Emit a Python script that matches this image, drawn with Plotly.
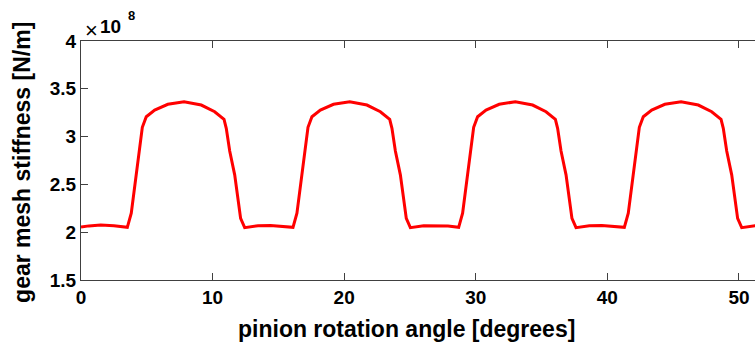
import plotly.graph_objects as go

# pinion rotation angle [degrees]
angle = [
    0.00, 0.60, 1.50, 2.50, 3.52, 3.82, 4.66, 4.96, 5.60, 6.60, 7.83, 9.14, 10.16, 10.87, 11.04, 11.30, 11.68, 12.13, 12.44, 13.45, 14.40, 15.30,
    16.11, 16.41, 17.25, 17.55, 18.19, 19.19, 20.42, 21.73, 22.75, 23.46, 23.63, 23.89, 24.27, 24.72, 25.03, 26.04, 26.99, 27.89,
    28.70, 29.00, 29.84, 30.14, 30.78, 31.78, 33.01, 34.32, 35.34, 36.05, 36.22, 36.48, 36.86, 37.31, 37.62, 38.63, 39.58, 40.48,
    41.29, 41.59, 42.43, 42.73, 43.37, 44.37, 45.60, 46.91, 47.93, 48.64, 48.81, 49.07, 49.45, 49.90, 50.21, 51.22, 52.20,
]
# gear mesh stiffness [x 1e8 N/m]
stiffness = [
    2.054, 2.066, 2.075, 2.068, 2.051, 2.198, 3.097, 3.208, 3.278, 3.338, 3.365, 3.330, 3.260, 3.180, 3.087, 2.850, 2.600, 2.145, 2.047, 2.068, 2.070, 2.064,
    2.051, 2.198, 3.097, 3.208, 3.278, 3.338, 3.365, 3.330, 3.260, 3.180, 3.087, 2.850, 2.600, 2.145, 2.047, 2.068, 2.070, 2.064,
    2.051, 2.198, 3.097, 3.208, 3.278, 3.338, 3.365, 3.330, 3.260, 3.180, 3.087, 2.850, 2.600, 2.145, 2.047, 2.068, 2.070, 2.064,
    2.051, 2.198, 3.097, 3.208, 3.278, 3.338, 3.365, 3.330, 3.260, 3.180, 3.087, 2.850, 2.600, 2.145, 2.047, 2.068, 2.070,
]

x_ticks = [0, 10, 20, 30, 40, 50]
y_ticks = [1.5, 2, 2.5, 3, 3.5, 4]
y_tick_text = ["1.5", "2", "2.5", "3", "3.5", "4"]

FONT = "Liberation Sans, Arial, Helvetica, sans-serif"
AX = "#404040"
TICK_SIZE = 19
TITLE_SIZE = 23

fig = go.Figure()
fig.add_trace(go.Scatter(x=angle, y=stiffness, mode="lines",
                         line=dict(color="#ff0000", width=3), showlegend=False))

fig.update_layout(
    width=755, height=343,
    margin=dict(l=81, r=0, t=41, b=63, autoexpand=False),
    plot_bgcolor="white", paper_bgcolor="white",
    font=dict(family=FONT, size=TICK_SIZE, color="black", weight=700),
)
fig.update_xaxes(
    range=[0, 51.22], tickvals=x_ticks, ticks="inside", ticklen=7, tickwidth=1,
    tickcolor=AX, showline=True, linecolor=AX, linewidth=1, mirror="ticks",
    showgrid=False, zeroline=False, tickfont=dict(size=TICK_SIZE, family=FONT, weight=700),
)
fig.update_yaxes(
    range=[1.5, 4], tickvals=y_ticks, ticktext=y_tick_text, ticks="inside", ticklen=7, tickwidth=1,
    tickcolor=AX, showline=True, linecolor=AX, linewidth=1, mirror=False,
    showgrid=False, zeroline=False, tickfont=dict(size=TICK_SIZE, family=FONT, weight=700),
)

fig.add_annotation(text="pinion rotation angle [degrees]", xref="paper", yref="paper",
                   x=(406 - 81) / 674, y=(280 - 329) / 239, xanchor="center", yanchor="middle",
                   showarrow=False, font=dict(size=TITLE_SIZE, family=FONT, weight=700))
fig.add_annotation(text="gear mesh stiffness [N/m]", xref="paper", yref="paper",
                   x=(22 - 81) / 674, y=0.49, xanchor="center", yanchor="middle", textangle=-90,
                   showarrow=False, font=dict(size=TITLE_SIZE, family=FONT, weight=700))
fig.add_annotation(text="×", xref="paper", yref="paper",
                   x=(91 - 81) / 674, y=(280 - 30) / 239, xanchor="center", yanchor="middle",
                   showarrow=False, font=dict(size=22, family=FONT, weight=400))
fig.add_annotation(text="10", xref="paper", yref="paper",
                   x=(110 - 81) / 674, y=(280 - 27) / 239, xanchor="center", yanchor="middle",
                   showarrow=False, font=dict(size=19, family=FONT, weight=700))
fig.add_annotation(text="8", xref="paper", yref="paper",
                   x=(131 - 81) / 674, y=(280 - 15) / 239, xanchor="center", yanchor="middle",
                   showarrow=False, font=dict(size=13, family=FONT, weight=700))

fig.write_html("out.html")
